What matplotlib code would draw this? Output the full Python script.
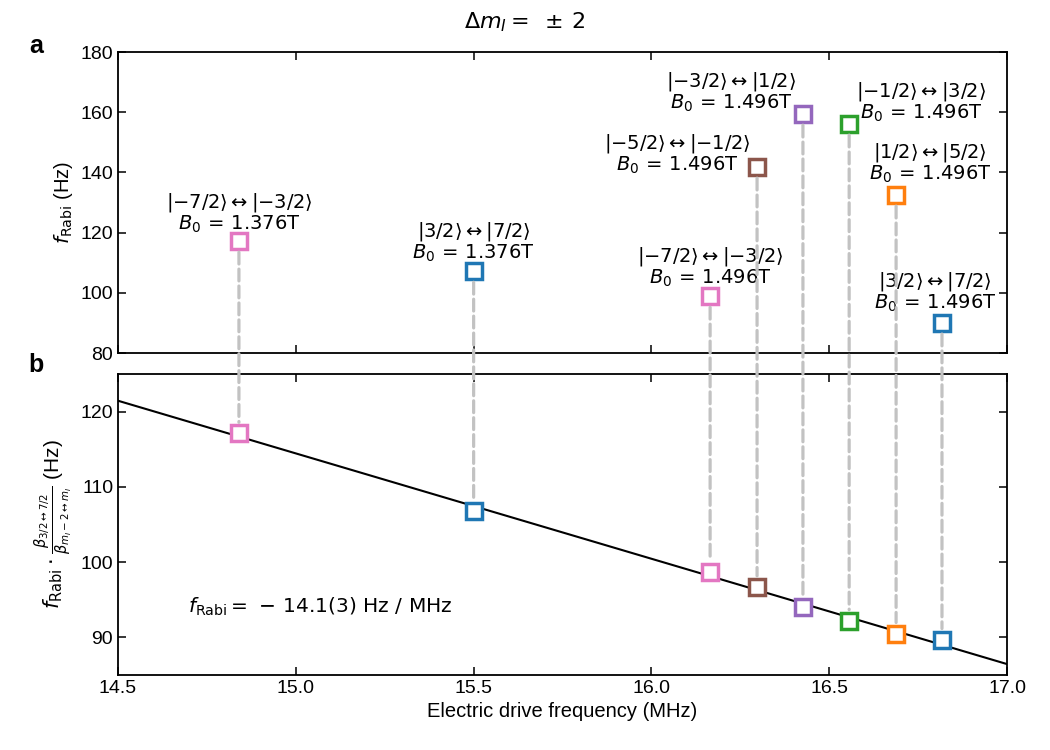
import matplotlib
matplotlib.use("Agg")
import matplotlib.pyplot as plt
from matplotlib.patches import ConnectionPatch
import numpy as np

# ---------------- data ----------------
freq_mhz = [14.84, 15.50, 16.165, 16.297, 16.426, 16.556, 16.688, 16.817]
f_rabi_top = [117.2, 107.2, 98.9, 141.8, 159.4, 156.1, 132.5, 90.0]
f_rabi_scaled = [117.1, 106.8, 98.7, 96.7, 94.1, 92.2, 90.5, 89.7]
transitions = [
    r"$|{-}7/2\rangle \leftrightarrow |{-}3/2\rangle$",
    r"$|3/2\rangle \leftrightarrow |7/2\rangle$",
    r"$|{-}7/2\rangle \leftrightarrow |{-}3/2\rangle$",
    r"$|{-}5/2\rangle \leftrightarrow |{-}1/2\rangle$",
    r"$|{-}3/2\rangle \leftrightarrow |1/2\rangle$",
    r"$|{-}1/2\rangle \leftrightarrow |3/2\rangle$",
    r"$|1/2\rangle \leftrightarrow |5/2\rangle$",
    r"$|3/2\rangle \leftrightarrow |7/2\rangle$",
]
b0_tesla = ["1.376", "1.376", "1.496", "1.496", "1.496", "1.496", "1.496", "1.496"]
fit_slope = -14.0        # Hz / MHz
fit_intercept = 324.45   # Hz
fit_label = r"$f_{\rm Rabi} =\,-\,14.1(3)\ \mathrm{Hz\ /\ MHz}$"
x_ticks = [14.5, 15.0, 15.5, 16.0, 16.5, 17.0]

# ---------------- style ----------------
colors = ["#e377c2", "#1f77b4", "#e377c2", "#8c564b", "#9467bd",
          "#2ca02c", "#ff7f0e", "#1f77b4"]
label_offsets_px = [(0, 28), (0, 29), (0, 29), (-80, 13), (-72, 22),
                    (72, 22), (34, 32), (-7, 31)]

plt.rcParams["font.family"] = ["Liberation Sans", "DejaVu Sans"]
plt.rcParams["mathtext.fontset"] = "dejavusans"
plt.rcParams["xtick.direction"] = "in"
plt.rcParams["ytick.direction"] = "in"
plt.rcParams["xtick.top"] = True
plt.rcParams["ytick.right"] = True

fig = plt.figure(figsize=(10.5, 7.5), dpi=100)
ax1 = fig.add_axes([0.1124, 0.5293, 0.8467, 0.4013])
ax2 = fig.add_axes([0.1124, 0.1000, 0.8467, 0.4013], sharex=ax1)

ms = 12
mew = 2.5
for x, y1, y2, c in zip(freq_mhz, f_rabi_top, f_rabi_scaled, colors):
    ax1.plot([x], [y1], ls="none", marker="s", ms=ms, mew=mew, mec=c,
             mfc="white", zorder=3)
    ax2.plot([x], [y2], ls="none", marker="s", ms=ms, mew=mew, mec=c,
             mfc="white", zorder=3)
    con = ConnectionPatch(xyA=(x, y1), coordsA=ax1.transData,
                          xyB=(x, y2), coordsB=ax2.transData,
                          color="#c2c2c2", ls="--", lw=2.3,
                          shrinkA=8, shrinkB=8, zorder=1)
    fig.add_artist(con)

for x, y, t, b, c, off in zip(freq_mhz, f_rabi_top, transitions, b0_tesla,
                              colors, label_offsets_px):
    ax1.annotate(t + "\n" + r"$B_0\,=\,%s\mathrm{T}$" % b,
                 xy=(x, y), xytext=off, textcoords="offset pixels",
                 ha="center", va="center", fontsize=14,
                 linespacing=0.95)

xx = np.array([14.5, 17.0])
ax2.plot(xx, fit_intercept + fit_slope * xx, color="black", lw=1.5, zorder=2)

ax2.text(0.079, 0.226, fit_label, transform=ax2.transAxes, fontsize=14.5,
         ha="left", va="center")

ax1.set_xlim(14.5, 17.0)
ax1.set_ylim(80, 180)
ax1.set_yticks([80, 100, 120, 140, 160, 180])
ax2.set_ylim(85, 125)
ax2.set_yticks([90, 100, 110, 120])
ax2.set_xticks(x_ticks)
ax2.set_xticklabels(["%.1f" % v for v in x_ticks])
plt.setp(ax1.get_xticklabels(), visible=False)

for ax in (ax1, ax2):
    ax.tick_params(labelsize=14, length=6, width=1.1)
    for s in ax.spines.values():
        s.set_linewidth(1.3)

ax1.set_ylabel(r"$f_{\rm Rabi}$ (Hz)", fontsize=14.5)
ax2.set_ylabel(r"$f_{\rm Rabi} \cdot \frac{\beta_{3/2 \leftrightarrow 7/2}}"
               r"{\beta_{m_I - 2 \leftrightarrow m_I}}$ (Hz)", fontsize=15)
ax2.set_xlabel("Electric drive frequency (MHz)", fontsize=14.5)

fig.text(0.5, 0.971, r"$\Delta m_I =\ \pm\,2$", ha="center", va="center",
         fontsize=16)
fig.text(0.034, 0.939, "a", fontsize=18, fontweight="bold", ha="center",
         va="center")
fig.text(0.034, 0.513, "b", fontsize=18, fontweight="bold", ha="center",
         va="center")

fig.savefig("out.png", dpi=100)
